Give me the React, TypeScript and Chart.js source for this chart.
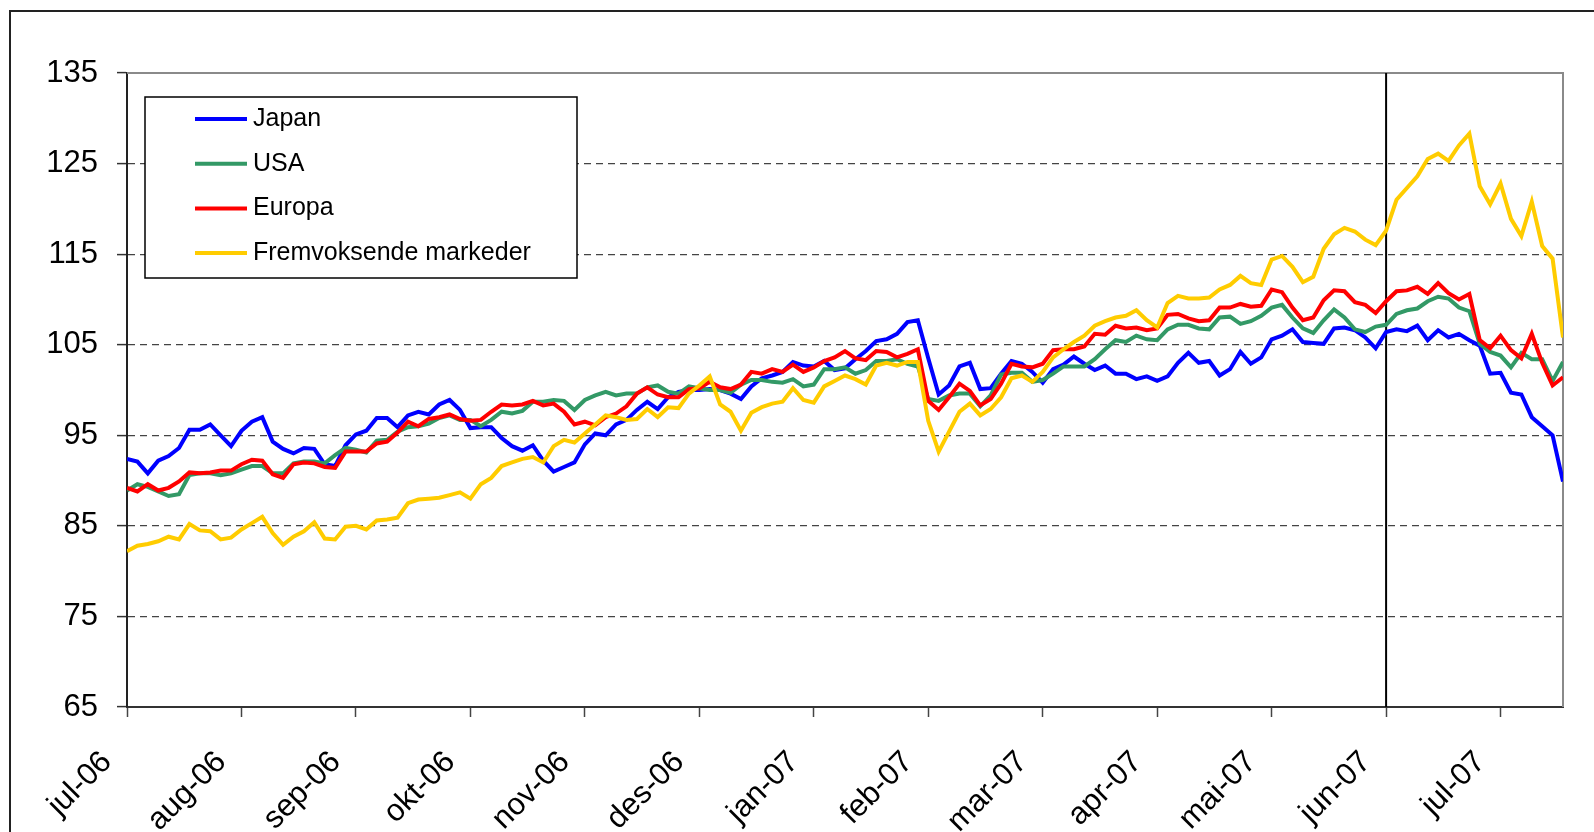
import React, { useEffect, useRef } from "react";
import { Chart, registerables } from "chart.js";

Chart.register(...registerables);

const FONT = '"Liberation Sans", Arial, sans-serif';

const monthLabels = [
  "jul-06", "aug-06", "sep-06", "okt-06", "nov-06", "des-06",
  "jan-07", "feb-07", "mar-07", "apr-07", "mai-07", "jun-07", "jul-07",
];
const monthTickIndex = [0, 11, 22, 33, 44, 55, 66, 77, 88, 99, 110, 121, 132];
const lastIndex = 138;
const markerIndex = 121;

const seriesNames = ["Japan", "USA", "Europa", "Fremvoksende markeder"];
const seriesColors = ["#0000FF", "#339966", "#FF0000", "#FFCC00"];

const japan = [
  92.4, 92.1, 90.8, 92.2, 92.7, 93.6, 95.6, 95.6, 96.2, 95.0,
  93.8, 95.5, 96.5, 97.0, 94.3, 93.5, 93.0, 93.6, 93.5, 91.8,
  91.6, 93.9, 95.1, 95.5, 96.9, 96.9, 95.9, 97.2, 97.6, 97.3,
  98.4, 98.9, 97.8, 95.8, 95.9, 95.9, 94.7, 93.8, 93.3, 93.9,
  92.2, 91.0, 91.5, 92.0, 94.0, 95.2,
  95.0, 96.2, 96.7, 97.8, 98.7, 97.9, 99.2, 99.8, 100.0, 100.0,
  100.1, 100.0, 99.6, 99.0, 100.4, 101.3, 101.6, 102.0, 103.1, 102.7,
  102.6, 103.2, 102.2, 102.4, 103.4, 104.3, 105.4, 105.6, 106.2, 107.5,
  107.7, 103.5, 99.5, 100.5, 102.6, 103.0, 100.1, 100.2, 101.8, 103.2,
  102.9, 102.0, 100.8,
  102.3, 102.8, 103.7, 102.9, 102.2, 102.7, 101.8, 101.8, 101.2, 101.5,
  101.0, 101.5, 103.0, 104.1, 103.0, 103.2, 101.6, 102.3, 104.2, 102.9,
  103.6, 105.6, 106.0, 106.7, 105.3, 105.2, 105.1, 106.8, 106.9, 106.6,
  105.8, 104.6, 106.4, 106.7, 106.5, 107.1, 105.5, 106.6, 105.8, 106.2,
  105.5, 104.9, 101.8, 101.9, 99.7, 99.5, 97.0, 96.0, 95.0, 89.9,
];

const usa = [
  88.9, 89.6, 89.3, 88.8, 88.3, 88.5, 90.6, 90.8, 90.8, 90.6,
  90.8, 91.2, 91.6, 91.6, 90.8, 90.8, 91.9, 92.1, 92.1, 91.9,
  92.8, 93.6, 93.4, 93.1, 94.4, 94.5, 95.4, 95.9, 96.0, 96.3,
  96.9, 97.2, 96.7, 96.7, 96.0, 96.7, 97.6, 97.4, 97.7, 98.7,
  98.7, 98.9, 98.8, 97.8, 98.9, 99.4,
  99.8, 99.4, 99.6, 99.6, 100.3, 100.5, 99.8, 99.6, 100.4, 100.2,
  100.0, 100.0, 99.7, 100.6, 101.1, 101.1, 100.9, 100.8, 101.2, 100.4,
  100.6, 102.3, 102.3, 102.5, 101.8, 102.2, 103.2, 103.2, 103.4, 102.9,
  102.6, 99.0, 98.8, 99.4, 99.6, 99.6, 98.2, 99.4, 101.7, 101.9,
  101.9, 100.9, 101.1,
  101.8, 102.6, 102.6, 102.6, 103.4, 104.5, 105.5, 105.3, 106.0, 105.6,
  105.5, 106.7, 107.2, 107.2, 106.8, 106.7, 108.0, 108.1, 107.3, 107.6,
  108.2, 109.1, 109.4, 108.0, 106.8, 106.3, 107.7, 108.9, 108.0, 106.7,
  106.4, 107.0, 107.2, 108.4, 108.8, 109.0, 109.8, 110.3, 110.1, 109.1,
  108.7, 105.1, 104.2, 103.8, 102.5, 104.1, 103.4, 103.4, 101.0, 103.1,
];

const europa = [
  89.2, 88.8, 89.6, 88.9, 89.2, 89.9, 90.9, 90.8, 90.9, 91.1,
  91.1, 91.8, 92.3, 92.2, 90.7, 90.3, 91.8, 92.0, 91.9, 91.5,
  91.4, 93.2, 93.2, 93.2, 94.1, 94.3, 95.3, 96.5, 96.0, 96.8,
  97.0, 97.3, 96.8, 96.6, 96.7, 97.6, 98.4, 98.3, 98.4, 98.8,
  98.3, 98.5, 97.6, 96.2, 96.5, 96.1,
  97.0, 97.4, 98.2, 99.6, 100.3, 99.5, 99.2, 99.2, 100.1, 100.2,
  100.9, 100.3, 100.1, 100.6, 102.0, 101.8, 102.3, 102.0, 102.8, 102.0,
  102.5, 103.2, 103.6, 104.3, 103.5, 103.3, 104.3, 104.2, 103.6, 104.0,
  104.5, 98.8, 97.8, 99.2, 100.7, 99.9, 98.3, 99.0, 100.7, 102.9,
  102.6, 102.5, 102.9,
  104.4, 104.5, 104.5, 104.8, 106.2, 106.1, 107.1, 106.8, 106.9, 106.6,
  106.8, 108.3, 108.4, 107.9, 107.6, 107.7, 109.1, 109.1, 109.5, 109.2,
  109.3, 111.1, 110.8, 109.1, 107.7, 108.0, 109.9, 111.0, 110.9, 109.7,
  109.4, 108.5, 109.8, 110.9, 111.0, 111.4, 110.6, 111.8, 110.7, 110.0,
  110.6, 105.5, 104.6, 106.0, 104.4, 103.5, 106.2, 103.0, 100.5, 101.4,
];

const emerging = [
  82.2, 82.8, 83.0, 83.3, 83.8, 83.5, 85.2, 84.5, 84.4, 83.5,
  83.7, 84.6, 85.3, 86.0, 84.2, 82.9, 83.8, 84.4, 85.4, 83.6,
  83.5, 84.9, 85.0, 84.6, 85.6, 85.7, 85.9, 87.5, 87.9, 88.0,
  88.1, 88.4, 88.7, 88.0, 89.6, 90.3, 91.6, 92.0, 92.4, 92.6,
  92.0, 93.8, 94.5, 94.2, 95.2, 96.2,
  97.2, 97.0, 96.7, 96.8, 97.9, 97.0, 98.1, 98.0, 99.6, 100.5,
  101.5, 98.4, 97.6, 95.5, 97.5, 98.1, 98.5, 98.7, 100.2, 98.9,
  98.6, 100.4, 101.0, 101.6, 101.2, 100.6, 102.7, 103.0, 102.7, 103.1,
  103.1, 96.6, 93.2, 95.4, 97.6, 98.5, 97.2, 97.9, 99.2, 101.3,
  101.6, 100.9, 102.0,
  103.6, 104.5, 105.3, 106.0, 107.1, 107.6, 108.0, 108.2, 108.8, 107.7,
  106.9, 109.6, 110.4, 110.1, 110.1, 110.2, 111.1, 111.6, 112.6, 111.8,
  111.6, 114.4, 114.8, 113.6, 111.9, 112.5, 115.6, 117.2, 117.9, 117.5,
  116.6, 116.0, 117.6, 121.0, 122.3, 123.6, 125.5, 126.1, 125.3, 127.0,
  128.3, 122.5, 120.5, 122.8, 118.9, 117.0, 120.8, 115.9, 114.5, 105.8,
];

const yMin = 65;
const yMax = 135;
const yStep = 10;

export default function App() {
  const ref = useRef<HTMLCanvasElement>(null);

  useEffect(() => {
    document.body.style.margin = "0";
    const canvas = ref.current;
    if (!canvas) return;
    const series = [japan, usa, europa, emerging];
    const datasets = series.map((vals, k) => ({
      label: seriesNames[k],
      data: vals.map((v, i) => ({ x: i, y: v })),
      borderColor: seriesColors[k],
      backgroundColor: seriesColors[k],
      borderWidth: 4,
      pointRadius: 0,
      pointHoverRadius: 0,
      tension: 0,
      fill: false,
      order: series.length - 1 - k,
    }));

    const decor = {
      id: "decor",
      beforeDraw(chart: any) {
        const ctx = chart.ctx;
        ctx.save();
        ctx.fillStyle = "#ffffff";
        ctx.fillRect(0, 0, chart.width, chart.height);
        ctx.strokeStyle = "#222222";
        ctx.lineWidth = 2;
        ctx.strokeRect(10, 11, chart.width + 100, chart.height + 100);
        ctx.restore();
      },
      beforeDatasetsDraw(chart: any) {
        const ctx = chart.ctx;
        const a = chart.chartArea;
        ctx.save();
        ctx.strokeStyle = "#8a8a8a";
        ctx.lineWidth = 2;
        ctx.beginPath();
        ctx.moveTo(a.left, a.top);
        ctx.lineTo(a.right, a.top);
        ctx.lineTo(a.right, a.bottom);
        ctx.stroke();
        const xm = chart.scales.x.getPixelForValue(markerIndex);
        ctx.strokeStyle = "#000000";
        ctx.lineWidth = 2;
        ctx.beginPath();
        ctx.moveTo(xm, a.top);
        ctx.lineTo(xm, a.bottom);
        ctx.stroke();
        ctx.restore();
      },
      afterDraw(chart: any) {
        const ctx = chart.ctx;
        ctx.save();
        const bx = 145, by = 97, bw = 432, bh = 181;
        ctx.fillStyle = "#ffffff";
        ctx.fillRect(bx, by, bw, bh);
        ctx.strokeStyle = "#000000";
        ctx.lineWidth = 1.5;
        ctx.strokeRect(bx, by, bw, bh);
        chart.data.datasets.forEach((ds: any, k: number) => {
          const y = 119 + k * 44.7;
          ctx.strokeStyle = ds.borderColor;
          ctx.lineWidth = 4;
          ctx.beginPath();
          ctx.moveTo(195, y);
          ctx.lineTo(247, y);
          ctx.stroke();
          ctx.fillStyle = "#000000";
          ctx.font = `25px ${FONT}`;
          ctx.textBaseline = "middle";
          ctx.textAlign = "left";
          ctx.fillText(ds.label, 253, y);
        });
        ctx.restore();
      },
    };

    const chart = new Chart(canvas, {
      type: "line",
      data: { datasets: datasets as any },
      options: {
        responsive: false,
        animation: false,
        devicePixelRatio: 1,
        layout: { padding: { top: 73, right: 31, left: 0, bottom: 0 } },
        plugins: { legend: { display: false }, tooltip: { enabled: false } },
        scales: {
          x: {
            type: "linear",
            min: 0,
            max: lastIndex,
            afterBuildTicks: (s: any) => {
              s.ticks = monthTickIndex.map((v) => ({ value: v }));
            },
            afterFit: (s: any) => {
              s.height = 125;
            },
            ticks: {
              autoSkip: false,
              minRotation: 45,
              maxRotation: 45,
              padding: 27,
              labelOffset: -20,
              color: "#000000",
              font: { family: FONT, size: 31 },
              callback: (_v: any, index: number) => monthLabels[index] ?? "",
            },
            grid: {
              display: true,
              drawOnChartArea: false,
              drawTicks: true,
              tickLength: 10,
              tickColor: "#444444",
              tickWidth: 1.5,
            },
            border: { display: true, color: "#333333", width: 2 },
          },
          y: {
            type: "linear",
            min: yMin,
            max: yMax,
            afterFit: (s: any) => {
              s.width = 127;
            },
            ticks: {
              stepSize: yStep,
              padding: 19,
              color: "#000000",
              font: { family: FONT, size: 31 },
              callback: (v: any) => String(v),
            },
            grid: {
              color: (c: any) =>
                c.tick && (c.tick.value === yMin || c.tick.value === yMax)
                  ? "rgba(0,0,0,0)"
                  : "#444444",
              lineWidth: 1.2,
              drawTicks: true,
              tickLength: 10,
              tickColor: "#333333",
              tickWidth: 1.5,
            },
            border: { display: true, color: "#222222", width: 2, dash: [7, 5] },
          },
        },
      },
      plugins: [decor],
    } as any);

    return () => chart.destroy();
  }, []);

  return <canvas ref={ref} width={1594} height={832} style={{ display: "block" }} />;
}
